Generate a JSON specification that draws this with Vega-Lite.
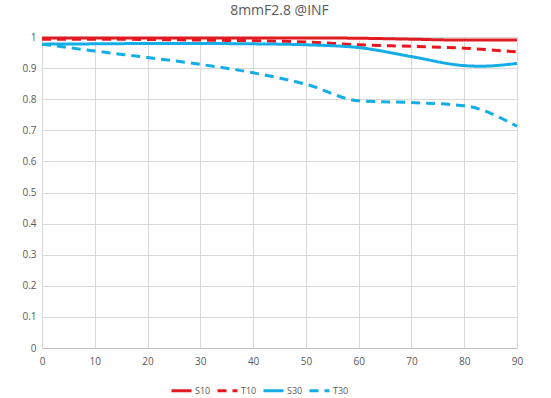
{
  "$schema": "https://vega.github.io/schema/vega-lite/v6.json",
  "width": 475,
  "height": 311,
  "autosize": "none",
  "padding": {"left": 42, "top": 37, "right": 34, "bottom": 50},
  "background": "white",
  "title": {"text": "8mmF2.8 @INF", "fontSize": 14, "font": "Open Sans", "fontWeight": "normal", "color": "#595959", "offset": 14, "anchor": "middle"},
  "config": {"view": {"stroke": null},
    "legend": {"orient": "none", "legendX": 128, "legendY": 342, "direction": "horizontal", "symbolType": "stroke", "symbolStrokeWidth": 3, "symbolSize": 400, "labelFontSize": 9, "labelFont": "Open Sans", "labelColor": "#595959", "columnPadding": 0, "labelOffset": 2, "symbolOffset": 0}},
  "data": {"values": [
    {"s": "S10", "x": 0, "y": 0.997}, {"s": "S10", "x": 10, "y": 0.997}, {"s": "S10", "x": 20, "y": 0.997}, {"s": "S10", "x": 30, "y": 0.997}, {"s": "S10", "x": 40, "y": 0.997}, {"s": "S10", "x": 50, "y": 0.997}, {"s": "S10", "x": 60, "y": 0.996}, {"s": "S10", "x": 70, "y": 0.993}, {"s": "S10", "x": 80, "y": 0.99}, {"s": "S10", "x": 90, "y": 0.99},
    {"s": "T10", "x": 0, "y": 0.993}, {"s": "T10", "x": 10, "y": 0.993}, {"s": "T10", "x": 20, "y": 0.992}, {"s": "T10", "x": 30, "y": 0.99}, {"s": "T10", "x": 40, "y": 0.988}, {"s": "T10", "x": 50, "y": 0.984}, {"s": "T10", "x": 60, "y": 0.975}, {"s": "T10", "x": 70, "y": 0.97}, {"s": "T10", "x": 80, "y": 0.964}, {"s": "T10", "x": 90, "y": 0.952},
    {"s": "S30", "x": 0, "y": 0.977}, {"s": "S30", "x": 10, "y": 0.978}, {"s": "S30", "x": 20, "y": 0.979}, {"s": "S30", "x": 30, "y": 0.979}, {"s": "S30", "x": 40, "y": 0.978}, {"s": "S30", "x": 50, "y": 0.975}, {"s": "S30", "x": 60, "y": 0.966}, {"s": "S30", "x": 70, "y": 0.937}, {"s": "S30", "x": 80, "y": 0.908}, {"s": "S30", "x": 83, "y": 0.906}, {"s": "S30", "x": 90, "y": 0.915},
    {"s": "T30", "x": 0, "y": 0.977}, {"s": "T30", "x": 10, "y": 0.955}, {"s": "T30", "x": 20, "y": 0.934}, {"s": "T30", "x": 30, "y": 0.912}, {"s": "T30", "x": 40, "y": 0.885}, {"s": "T30", "x": 50, "y": 0.848}, {"s": "T30", "x": 60, "y": 0.795}, {"s": "T30", "x": 70, "y": 0.789}, {"s": "T30", "x": 80, "y": 0.779}, {"s": "T30", "x": 90, "y": 0.713}
  ]},
  "mark": {"type": "line", "interpolate": "monotone", "strokeWidth": 3},
  "encoding": {
    "x": {"field": "x", "type": "quantitative", "scale": {"domain": [0, 90], "nice": false},
      "axis": {"title": null, "values": [0,10,20,30,40,50,60,70,80,90], "grid": true, "gridColor": "#d9d9d9", "domainColor": "#bfbfbf", "ticks": false, "labelColor": "#595959", "labelFontSize": 10, "labelFont": "Open Sans", "labelPadding": 8, "labelFlush": false}},
    "y": {"field": "y", "type": "quantitative", "scale": {"domain": [0, 1], "nice": false},
      "axis": {"title": null, "values": [0,0.1,0.2,0.3,0.4,0.5,0.6,0.7,0.8,0.9,1], "format": "~g", "grid": true, "gridColor": "#d9d9d9", "domain": false, "ticks": false, "labelColor": "#595959", "labelFontSize": 10, "labelFont": "Open Sans", "labelPadding": 6}},
    "color": {"field": "s", "type": "nominal", "scale": {"domain": ["S10","T10","S30","T30"], "range": ["#e01b22","#e8161e","#14ade6","#14ade6"]}, "legend": {"title": null}},
    "strokeDash": {"field": "s", "type": "nominal", "scale": {"domain": ["S10","T10","S30","T30"], "range": [[1,0],[9,6],[1,0],[9,6]]}, "legend": {"title": null}}
  }
}
